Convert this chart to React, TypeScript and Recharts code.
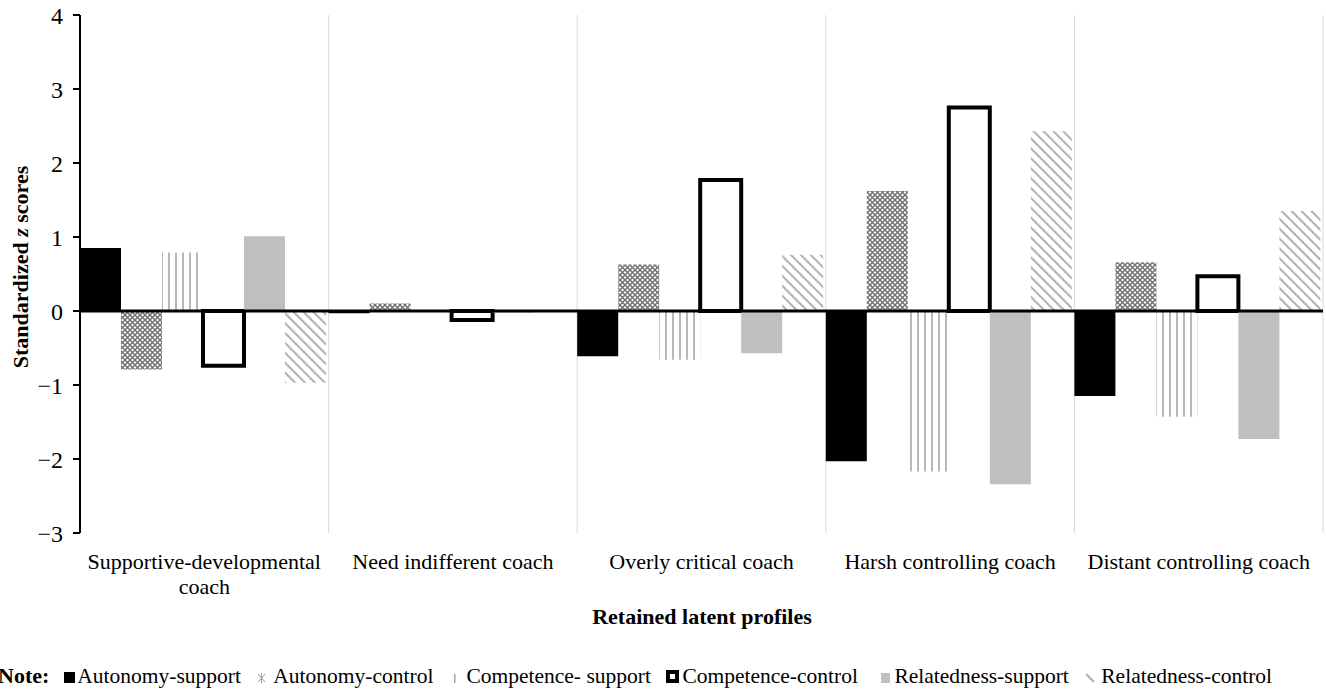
import { BarChart, Bar, XAxis, YAxis, CartesianGrid, ReferenceLine, Text } from "recharts";

const SERIF = '"Liberation Serif", "Times New Roman", serif';

const categories = [
  "Supportive-developmental coach",
  "Need indifferent coach",
  "Overly critical coach",
  "Harsh controlling coach",
  "Distant controlling coach",
];
const autonomySupport = [0.85, -0.03, -0.61, -2.03, -1.15];
const autonomyControl = [-0.79, 0.1, 0.63, 1.62, 0.66];
const competenceSupport = [0.79, 0, -0.66, -2.17, -1.43];
const competenceControl = [-0.74, -0.12, 1.77, 2.75, 0.47];
const relatednessSupport = [1.01, -0.02, -0.57, -2.34, -1.73];
const relatednessControl = [-0.97, 0, 0.76, 2.43, 1.35];
const yTicks = [-3, -2, -1, 0, 1, 2, 3, 4];

const series = [
  { key: "as", name: "Autonomy-support", values: autonomySupport, fill: "#000", stroke: "none", width: 0 },
  { key: "ac", name: "Autonomy-control", values: autonomyControl, fill: "url(#pat-cross)", stroke: "none", width: 0 },
  { key: "cs", name: "Competence- support", values: competenceSupport, fill: "url(#pat-vert)", stroke: "none", width: 0 },
  { key: "cc", name: "Competence-control", values: competenceControl, fill: "#fff", stroke: "#000", width: 4 },
  { key: "rs", name: "Relatedness-support", values: relatednessSupport, fill: "#bfbfbf", stroke: "none", width: 0 },
  { key: "rc", name: "Relatedness-control", values: relatednessControl, fill: "url(#pat-diag)", stroke: "none", width: 0 },
];

const data = categories.map((name, i) => {
  const row: Record<string, string | number> = { name };
  series.forEach((s) => (row[s.key] = s.values[i]));
  return row;
});

// light vertical lines sit on the borders between profiles, not at their centres
const boundaries = categories.map((_, i) => i).concat(categories.length);
const boundaryLines = ({ offset }: any) =>
  boundaries.map((i) => offset.left + (i * offset.width) / categories.length);

function CategoryTick(props: any) {
  const { x, y, payload } = props;
  return (
    <Text
      x={x}
      y={y}
      width={245}
      lineHeight={25}
      textAnchor="middle"
      verticalAnchor="start"
      style={{ fontFamily: SERIF, fontSize: "22px", fill: "#000" }}
    >
      {payload.value}
    </Text>
  );
}

// little legend glyphs beside each series name
function LegendGlyph({ k }: { k: string }) {
  if (k === "as") return <svg width={11} height={11}><rect width={11} height={11} fill="#000" /></svg>;
  if (k === "ac")
    return (
      <svg width={7} height={10}>
        <path d="M0,1 L7,9 M7,1 L0,9 M3.5,0 L3.5,10" stroke="#9a9a9a" strokeWidth={1} />
      </svg>
    );
  if (k === "cs") return <svg width={2} height={9}><rect width={1.5} height={9} fill="#a6a6a6" /></svg>;
  if (k === "cc")
    return (
      <svg width={13} height={13}>
        <rect width={13} height={13} fill="#000" />
        <rect x={4} y={4} width={5} height={5} fill="#fff" />
      </svg>
    );
  if (k === "rs") return <svg width={9} height={10}><rect width={9} height={10} fill="#c0c0c0" /></svg>;
  return (
    <svg width={8} height={10}>
      <path d="M0,1 L8,9" stroke="#b0b0b0" strokeWidth={2} />
    </svg>
  );
}

const legendGap = [15, 17.4, 21, 15.5, 23.5, 17.5];
const legendTextGap = [2, 8, 10, 3, 4, 7];

export default function App() {
  return (
    <div style={{ position: "absolute", left: 0, top: 0, width: 1326, height: 689, background: "#fff" }}>
      <BarChart
        width={1326}
        height={689}
        data={data}
        margin={{ top: 15, right: 3, bottom: 0, left: 0 }}
        barCategoryGap={0}
        barGap={0}
      >
        <defs>
          <pattern id="pat-cross" patternUnits="userSpaceOnUse" width={5} height={5}>
            <rect width={5} height={5} fill="#fff" />
            <path d="M0,0 L5,5 M5,0 L0,5" stroke="#6f6f6f" strokeWidth={1.4} />
          </pattern>
          <pattern id="pat-vert" patternUnits="userSpaceOnUse" width={7} height={10}>
            <line x1={1} y1={0} x2={1} y2={10} stroke="#a6a6a6" strokeWidth={1.6} />
          </pattern>
          <pattern id="pat-diag" patternUnits="userSpaceOnUse" width={7} height={7} patternTransform="rotate(-45)">
            <line x1={1} y1={0} x2={1} y2={7} stroke="#b3b3b3" strokeWidth={2.2} />
          </pattern>
        </defs>
        <CartesianGrid horizontal={false} stroke="#d9d9d9" verticalCoordinatesGenerator={boundaryLines} />
        <XAxis
          dataKey="name"
          height={156}
          axisLine={false}
          tickLine={false}
          tickSize={0}
          tickMargin={20}
          interval={0}
          tick={<CategoryTick />}
          label={{
            content: () => (
              <text x={702} y={624} textAnchor="middle" fontFamily={SERIF} fontSize={22} fontWeight="bold" fill="#000">
                Retained latent profiles
              </text>
            ),
          }}
        />
        <YAxis
          width={80}
          domain={[-3, 4]}
          ticks={yTicks}
          interval={0}
          axisLine={{ stroke: "#000", strokeWidth: 2 }}
          tickLine={{ stroke: "#000", strokeWidth: 2 }}
          tickSize={7}
          tickMargin={10}
          tick={{ fontFamily: SERIF, fontSize: 24, fill: "#000" }}
          tickFormatter={(v: number) => String(v).replace("-", "\u2212")}
          label={{
            content: () => (
              <text
                x={20}
                y={267}
                transform="rotate(-90 20 267)"
                textAnchor="middle"
                dominantBaseline="central"
                fontFamily={SERIF}
                fontSize={22}
                fontWeight="bold"
                fill="#000"
              >
                Standardized <tspan fontStyle="italic">z</tspan> scores
              </text>
            ),
          }}
        />
        {series.map((s) => (
          <Bar
            key={s.key}
            dataKey={s.key}
            name={s.name}
            fill={s.fill}
            stroke={s.stroke}
            strokeWidth={s.width}
            isAnimationActive={false}
          />
        ))}
        <ReferenceLine y={0} stroke="#000" strokeWidth={3} />
      </BarChart>
      <div
        style={{
          position: "absolute",
          left: -2,
          top: 665,
          display: "flex",
          alignItems: "baseline",
          fontFamily: SERIF,
          fontSize: 21.5,
          lineHeight: "22px",
          color: "#000",
          whiteSpace: "nowrap",
        }}
      >
        <span style={{ fontWeight: "bold", fontSize: 22 }}>Note:</span>
        {series.map((s, i) => (
          <span key={s.key} style={{ display: "flex", alignItems: "baseline", marginLeft: legendGap[i] }}>
            <LegendGlyph k={s.key} />
            <span style={{ marginLeft: legendTextGap[i] }}>{s.name}</span>
          </span>
        ))}
      </div>
    </div>
  );
}
